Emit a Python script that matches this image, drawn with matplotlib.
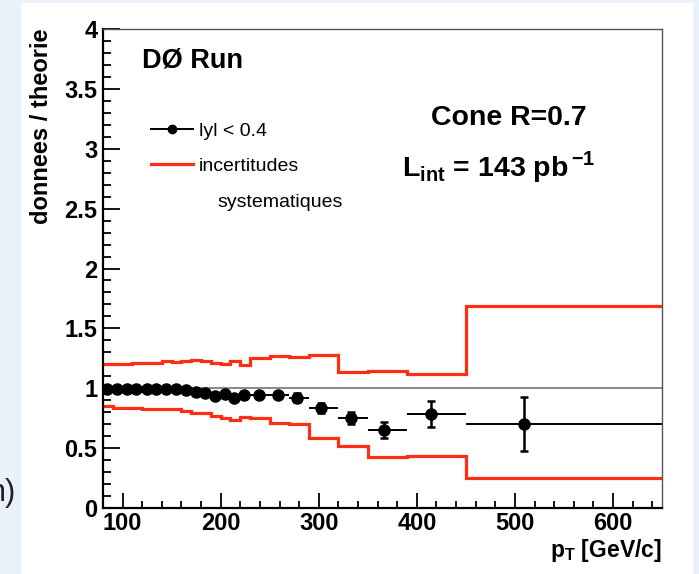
import numpy as np
import matplotlib
matplotlib.use('Agg')
import matplotlib.pyplot as plt
from matplotlib.lines import Line2D
from matplotlib.patches import Rectangle
from matplotlib.ticker import MultipleLocator, FuncFormatter

plt.rcParams['font.family'] = ['Liberation Sans', 'DejaVu Sans']
plt.rcParams['mathtext.fontset'] = 'custom'
plt.rcParams['mathtext.rm'] = 'Liberation Sans'
plt.rcParams['mathtext.bf'] = 'Liberation Sans:bold'

# bin edges of the pT spectrum (GeV/c)
bin_edges = [80, 90, 100, 110, 120, 130, 140, 150, 160, 170, 180, 190, 200,
             210, 220, 230, 250, 270, 290, 320, 350, 390, 450, 650]

# mean pT in each bin and data / theory ratio
pt = [84, 94, 104, 114, 124.5, 134.5, 144.5, 154.5, 164.5, 174.5, 184.5,
      194, 204, 214, 224, 239, 258.5, 278, 302.5, 333, 367, 414.5, 509]
ratio = [0.99, 0.994, 0.994, 0.994, 0.994, 0.994, 0.994, 0.99, 0.985,
         0.966, 0.963, 0.935, 0.956, 0.922, 0.945, 0.946, 0.942, 0.92,
         0.833, 0.754, 0.651, 0.785, 0.701]
err = [0.005, 0.005, 0.005, 0.005, 0.005, 0.005, 0.006, 0.006, 0.007,
       0.008, 0.008, 0.009, 0.01, 0.011, 0.012, 0.015, 0.02, 0.037,
       0.04, 0.05, 0.067, 0.11, 0.225]

# systematic uncertainty band (upper / lower)
sys_up = [1.205, 1.205, 1.205, 1.21, 1.21, 1.212, 1.225, 1.222, 1.228,
          1.232, 1.225, 1.215, 1.203, 1.23, 1.194, 1.25, 1.267, 1.258,
          1.277, 1.133, 1.144, 1.121, 1.687]
sys_lo = [0.852, 0.838, 0.838, 0.838, 0.829, 0.829, 0.824, 0.824, 0.813,
          0.79, 0.79, 0.768, 0.749, 0.738, 0.76, 0.749, 0.712, 0.701,
          0.587, 0.518, 0.429, 0.437, 0.248]

# theory reference
ref_level = 1.0

red = '#ff2d14'

fig = plt.figure(figsize=(6.99, 5.74), dpi=100)
fig.patch.set_facecolor('#e9f1fa')
# white slide area behind the plot
bg = Rectangle((21/699, 0), (693-21)/699, 1 - 3/574,
               transform=fig.transFigure, facecolor='white',
               edgecolor='none', zorder=-10)
fig.add_artist(bg)
fig.text(16/699, 1 - 493/574, 'n)', fontsize=22, ha='right', va='center',
         color='#222222', zorder=-5)

ax = fig.add_axes([103/699, 1 - 508/574, 559/699, 479/574], zorder=1)
ax.set_facecolor('white')

edges = np.array(bin_edges)
x = np.array(pt)
lo = edges[:-1]
hi = edges[1:]

# systematic band
ax.stairs(sys_up, edges, baseline=None, color=red, lw=2.3, zorder=2)
ax.stairs(sys_lo, edges, baseline=None, color=red, lw=2.3, zorder=2)

# reference line
ax.axhline(ref_level, color='#888888', lw=1.4, zorder=1)

# data points
ax.errorbar(x, ratio, xerr=[x - lo, hi - x], fmt='none', ecolor='black',
            elinewidth=1.4, capsize=0, zorder=3)
ax.errorbar(x, ratio, yerr=err, fmt='o', color='black', ms=8,
            elinewidth=1.8, capsize=3, capthick=1.8, zorder=4)

ax.set_xlim(80, 650)
ax.set_ylim(0, 4)

# root-like axes
ax.xaxis.set_major_locator(MultipleLocator(100))
ax.xaxis.set_minor_locator(MultipleLocator(20))
ax.yaxis.set_major_locator(MultipleLocator(0.5))
ax.yaxis.set_minor_locator(MultipleLocator(0.1))
ax.yaxis.set_major_formatter(FuncFormatter(lambda v, p: '%g' % v))
ax.tick_params(axis='both', which='both', direction='in', top=False,
               right=False, width=1.3, labelsize=17)
ax.tick_params(axis='y', which='major', length=12, pad=4)
ax.tick_params(axis='y', which='minor', length=6)
ax.tick_params(axis='x', which='major', length=10.5, pad=3)
ax.tick_params(axis='x', which='minor', length=5)
for lab in ax.get_xticklabels() + ax.get_yticklabels():
    lab.set_fontweight('bold')
for side in ['left', 'bottom']:
    ax.spines[side].set_linewidth(1.6)
    ax.spines[side].set_color('black')
for side in ['top', 'right']:
    ax.spines[side].set_linewidth(1.0)
    ax.spines[side].set_color('#555555')

# axis titles
ax.text(-0.11, 1.0, 'donnees / theorie', transform=ax.transAxes,
        rotation=90, ha='center', va='top', fontsize=17, fontweight='bold')
ax.text(1.0, -0.103, r'$\mathbf{p}_{\mathbf{T}}$ [GeV/c]',
        transform=ax.transAxes, ha='right', va='baseline', fontsize=16.5,
        fontweight='bold')

# labels
ax.text(0.069, 0.9186, 'DØ Run', transform=ax.transAxes, ha='left',
        va='baseline', fontsize=19.5, fontweight='bold')
ax.text(0.7266, 0.7996, 'Cone R=0.7', transform=ax.transAxes, ha='center',
        va='baseline', fontsize=20.5, fontweight='bold')
ax.text(0.534, 0.6917,
        r'$\mathbf{L}_{\mathbf{int}}$ = 143 pb$^{\,\mathbf{-1}}$',
        transform=ax.transAxes, ha='left', va='baseline', fontsize=20.5,
        fontweight='bold')

# legend
handles = [Line2D([], [], color='black', marker='o', ms=6, lw=1.4),
           Line2D([], [], color=red, lw=2.3)]
ax.legend(handles, ['lyl < 0.4', 'incertitudes'], loc='center left',
          bbox_to_anchor=(0.085, 0.7505), frameon=False, fontsize=14,
          handlelength=2.2, handletextpad=0.3, labelspacing=0.9,
          borderpad=0, borderaxespad=0)
ax.text(0.204, 0.637, 'systematiques', transform=ax.transAxes, ha='left',
        va='center', fontsize=14)

fig.savefig('out.png', dpi=100, facecolor=fig.get_facecolor())
